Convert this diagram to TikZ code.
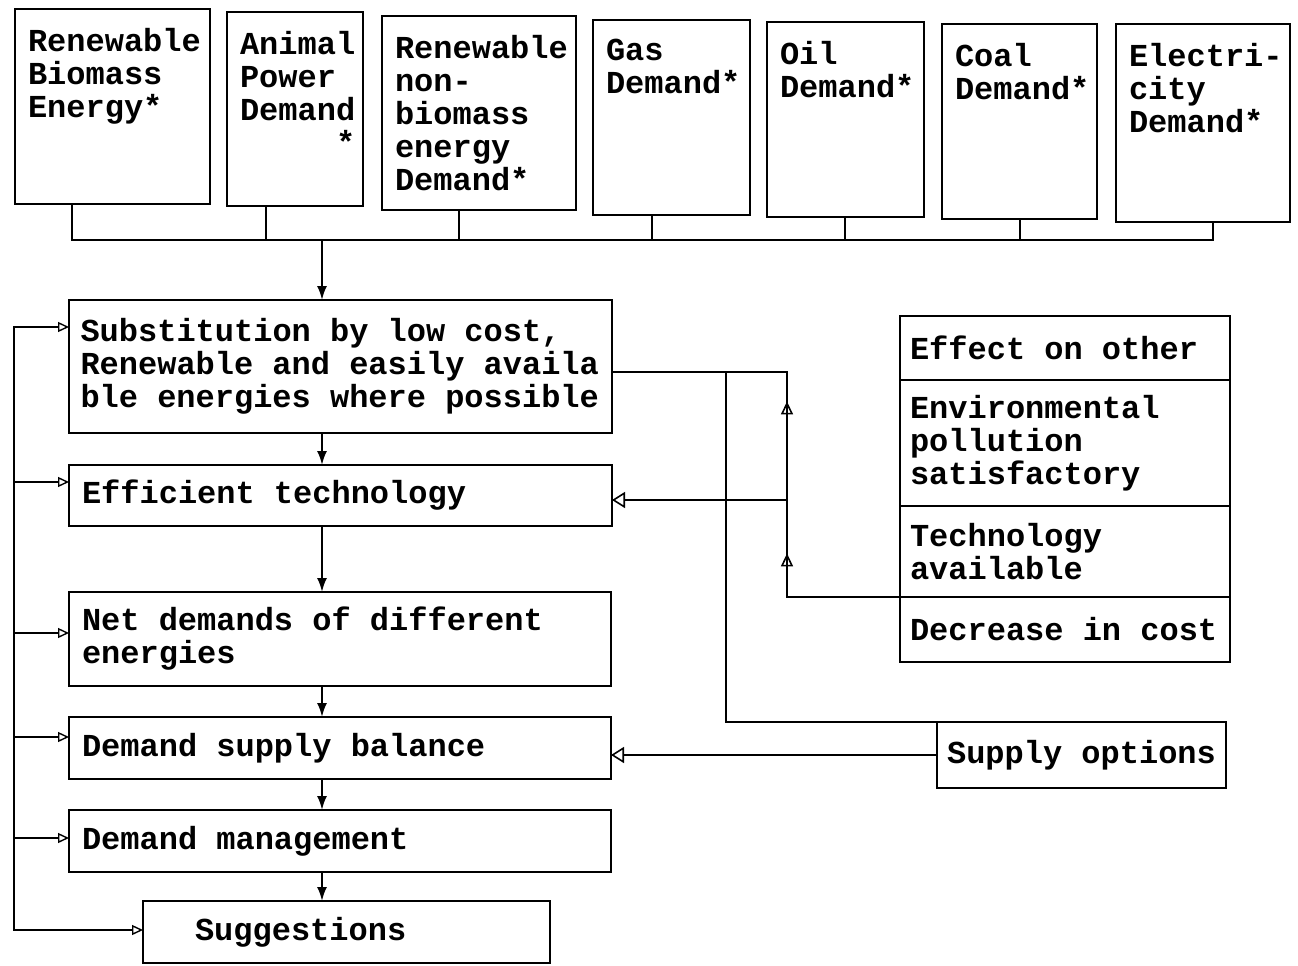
\documentclass[tikz,border=0pt]{standalone}
\usepackage{fontspec}
\newfontfamily\tw{Liberation Mono}
\newcommand\twfont{\tw\bfseries\fontsize{32}{33}\selectfont}
\usetikzlibrary{arrows.meta,decorations.markings}
\begin{document}
\begin{tikzpicture}[x=1pt,y=-1pt,
  every node/.style={inner sep=0pt, outer sep=0pt},
  box/.style={draw, line width=2pt, anchor=north west},
  txt/.style={font=\twfont, align=left, execute at begin node={\setlength{\spaceskip}{19.2pt}\setlength{\xspaceskip}{19.2pt}}},
  lbl/.style={txt, anchor=north west, xshift=13pt, yshift=-19pt},
  ln/.style={line width=2pt, line cap=rect},
  dn/.style={ln, -{Latex[length=14pt,width=10pt]}},
  fb/.style={ln, -{Triangle[open,length=11pt,width=10pt,line width=1.4pt]}},
  bigin/.style={ln, -{Triangle[open,length=13pt,width=16pt,line width=1.6pt]}},
  midup/.style={ln, postaction={decorate}, decoration={markings, mark=at position #1 with {\arrow{Triangle[open,length=13pt,width=12pt,line width=1.6pt]}}}},
]
\useasboundingbox[fill=white] (0,0) rectangle (1298,966);

% top row
\node[box, minimum width=195pt, minimum height=195pt, label={[lbl]north west:{Renewable\\Biomass\\Energy*}}] (b1) at (15,9) {};
\node[box, minimum width=136pt, minimum height=194pt, label={[lbl]north west:{Animal\\Power\\Demand\\\phantom{Deman}*}}] (b2) at (227,12) {};
\node[box, minimum width=194pt, minimum height=194pt, label={[lbl]north west:{Renewable\\non-\\biomass\\energy\\Demand*}}] (b3) at (382,16) {};
\node[box, minimum width=157pt, minimum height=195pt, label={[lbl]north west:{Gas\\Demand*}}] (b4) at (593,20) {};
\node[box, minimum width=157pt, minimum height=195pt, label={[lbl]north west:{Oil\\Demand*}}] (b5) at (767,22) {};
\node[box, minimum width=155pt, minimum height=195pt, label={[lbl]north west:{Coal\\Demand*}}] (b6) at (942,24) {};
\node[box, minimum width=174pt, minimum height=198pt, label={[lbl]north west:{Electri-\\city\\Demand*}}] (b7) at (1116,24) {};

% left chain
\node[box, txt, minimum height=133pt, inner xsep=11.5pt, text width=520pt] (sub) at (69,300) {Substitution by low cost,\\Renewable and easily availa\\ble energies where possible};
\node[box, txt, minimum height=61pt, inner xsep=13pt, text width=517pt] (eff) at (69,465) {Efficient technology};
\node[box, txt, minimum height=94pt, inner xsep=13pt, text width=516pt] (net) at (69,592) {Net demands of different\\energies};
\node[box, txt, minimum height=62pt, inner xsep=13pt, text width=516pt] (dsb) at (69,717) {Demand supply balance};
\node[box, txt, minimum height=62pt, inner xsep=13pt, text width=516pt] (dm) at (69,810) {Demand management};
\node[box, txt, minimum height=62pt, inner xsep=52pt, text width=303pt] (sug) at (143,901) {Suggestions};

% right panel
\node[box, txt, minimum height=64pt, inner xsep=10pt, text width=310pt] (p1) at (900,316) {Effect on other};
\node[box, txt, minimum height=126pt, inner xsep=10pt, text width=310pt] (p2) at (p1.south west) {Environmental\\pollution\\satisfactory};
\node[box, txt, minimum height=91pt, inner xsep=10pt, text width=310pt] (p3) at (p2.south west) {Technology\\available};
\node[box, txt, minimum height=65pt, inner xsep=10pt, text width=310pt] (p4) at (p3.south west) {Decrease in cost};
\node[box, txt, minimum height=66pt, minimum width=289pt, inner xsep=10pt] (sup) at (937,722) {Supply options};

% coordinates
\coordinate (d1) at (72,240);
\coordinate (d2) at (266,240);
\coordinate (d3) at (459,240);
\coordinate (d4) at (652,240);
\coordinate (d5) at (845,240);
\coordinate (d6) at (1020,240);
\coordinate (d7) at (1213,240);
\coordinate (dA) at (322,240);
\coordinate (cx) at (322,0);
\coordinate (f1) at (14,327);
\coordinate (f2) at (14,482);
\coordinate (f3) at (14,633);
\coordinate (f4) at (14,737);
\coordinate (f5) at (14,838);
\coordinate (f6) at (14,930);
\coordinate (j1) at (787,372);
\coordinate (j2) at (726,372);
\coordinate (j3) at (787,500);
\coordinate (k) at (787,597);

% top bus
\foreach \i in {1,...,7} \draw[ln] (b\i.south -| d\i) -- (d\i);
\draw[ln] (d1) -- (d7);
\draw[dn] (dA) -- (sub.north -| dA);

% chain arrows
\draw[dn] (sub.south -| cx) -- (eff.north -| cx);
\draw[dn] (eff.south -| cx) -- (net.north -| cx);
\draw[dn] (net.south -| cx) -- (dsb.north -| cx);
\draw[dn] (dsb.south -| cx) -- (dm.north -| cx);
\draw[dn] (dm.south -| cx) -- (sug.north -| cx);

% feedback line
\draw[ln] (f1) -- (f6);
\draw[fb] (f1) -- (sub.west |- f1);
\draw[fb] (f2) -- (eff.west |- f2);
\draw[fb] (f3) -- (net.west |- f3);
\draw[fb] (f4) -- (dsb.west |- f4);
\draw[fb] (f5) -- (dm.west |- f5);
\draw[fb] (f6) -- (sug.west |- f6);

% right connectors
\draw[ln] (sub.east |- j1) -- (j1);
\draw[ln] (j2) |- (sup.north west);
\draw[ln] (p3.south west) -- (k);
\draw[midup=0.45] (k) -- (j3);
\draw[midup=0.77] (j3) -- (j1);
\draw[bigin] (j3) -- (eff.east |- j3);
\draw[bigin] (sup.west) -- (sup.west -| dsb.east);
\end{tikzpicture}
\end{document}
